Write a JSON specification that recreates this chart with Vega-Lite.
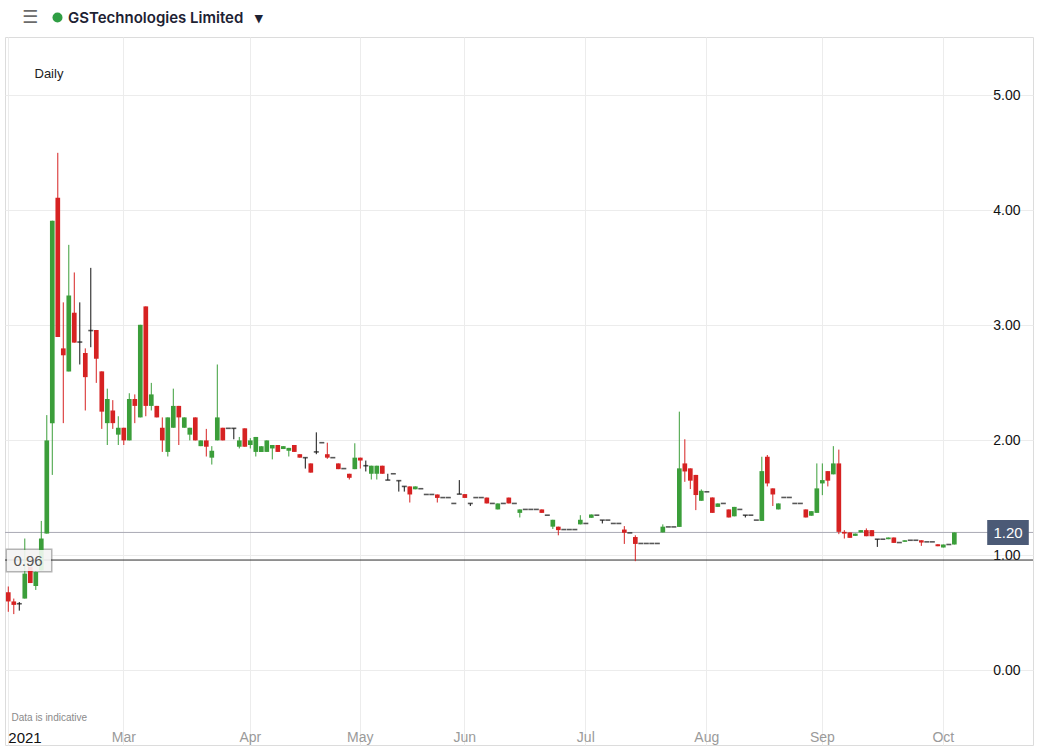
{
"$schema": "https://vega.github.io/schema/vega-lite/v6.json",
"width": 1028, "height": 708,
"autosize": "none",
"padding": {"left": 5, "top": 37, "right": 4, "bottom": 10},
"background": "white",
"config": {"view": {"stroke": "#dcdcdc"}, "font": "Liberation Sans"},
"datasets": {
"px": [
{"d":"2021-01-29","o":0.68,"h":0.73,"l":0.51,"c":0.60},
{"d":"2021-02-01","o":0.60,"h":0.625,"l":0.49,"c":0.57},
{"d":"2021-02-02","o":0.58,"h":0.595,"l":0.52,"c":0.58},
{"d":"2021-02-03","o":0.625,"h":1.147,"l":0.625,"c":0.842},
{"d":"2021-02-04","o":0.90,"h":0.90,"l":0.76,"c":0.76},
{"d":"2021-02-05","o":0.734,"h":0.86,"l":0.70,"c":0.856},
{"d":"2021-02-08","o":0.87,"h":1.30,"l":0.87,"c":1.147},
{"d":"2021-02-09","o":1.19,"h":2.22,"l":1.19,"c":2.00},
{"d":"2021-02-10","o":2.15,"h":3.91,"l":1.70,"c":3.91},
{"d":"2021-02-11","o":4.11,"h":4.50,"l":2.90,"c":2.90},
{"d":"2021-02-12","o":2.80,"h":3.20,"l":2.15,"c":2.74},
{"d":"2021-02-15","o":2.60,"h":3.70,"l":2.60,"c":3.26},
{"d":"2021-02-16","o":3.11,"h":3.46,"l":2.85,"c":2.85},
{"d":"2021-02-17","o":2.855,"h":3.20,"l":2.66,"c":2.855},
{"d":"2021-02-18","o":2.76,"h":2.80,"l":2.26,"c":2.55},
{"d":"2021-02-19","o":2.955,"h":3.50,"l":2.81,"c":2.955},
{"d":"2021-02-22","o":2.96,"h":2.96,"l":2.50,"c":2.71},
{"d":"2021-02-23","o":2.60,"h":2.60,"l":2.10,"c":2.25},
{"d":"2021-02-24","o":2.15,"h":2.45,"l":1.96,"c":2.36},
{"d":"2021-02-25","o":2.26,"h":2.35,"l":2.10,"c":2.15},
{"d":"2021-02-26","o":2.05,"h":2.21,"l":1.96,"c":2.11},
{"d":"2021-03-01","o":2.11,"h":2.11,"l":1.96,"c":2.00},
{"d":"2021-03-02","o":2.00,"h":2.41,"l":2.00,"c":2.36},
{"d":"2021-03-03","o":2.36,"h":2.40,"l":2.15,"c":2.30},
{"d":"2021-03-04","o":2.20,"h":3.005,"l":2.20,"c":3.005},
{"d":"2021-03-05","o":3.165,"h":3.165,"l":2.21,"c":2.30},
{"d":"2021-03-08","o":2.30,"h":2.50,"l":2.26,"c":2.40},
{"d":"2021-03-09","o":2.30,"h":2.30,"l":2.20,"c":2.20},
{"d":"2021-03-10","o":2.11,"h":2.20,"l":1.90,"c":2.00},
{"d":"2021-03-11","o":1.90,"h":2.20,"l":1.86,"c":2.20},
{"d":"2021-03-12","o":2.11,"h":2.45,"l":2.11,"c":2.30},
{"d":"2021-03-15","o":2.30,"h":2.30,"l":1.96,"c":2.20},
{"d":"2021-03-16","o":2.11,"h":2.20,"l":2.11,"c":2.20},
{"d":"2021-03-17","o":2.05,"h":2.11,"l":2.00,"c":2.11},
{"d":"2021-03-18","o":2.20,"h":2.20,"l":2.00,"c":2.00},
{"d":"2021-03-19","o":1.95,"h":2.00,"l":1.95,"c":2.00},
{"d":"2021-03-22","o":2.00,"h":2.10,"l":1.86,"c":1.945},
{"d":"2021-03-23","o":1.85,"h":1.95,"l":1.79,"c":1.91},
{"d":"2021-03-24","o":2.00,"h":2.66,"l":2.00,"c":2.20},
{"d":"2021-03-25","o":2.11,"h":2.11,"l":2.00,"c":2.00},
{"d":"2021-03-26","o":2.105,"h":2.105,"l":2.105,"c":2.105},
{"d":"2021-03-29","o":2.105,"h":2.105,"l":2.01,"c":2.105},
{"d":"2021-03-30","o":1.945,"h":2.03,"l":1.93,"c":2.00},
{"d":"2021-03-31","o":2.105,"h":2.105,"l":1.945,"c":1.945},
{"d":"2021-04-01","o":1.96,"h":2.02,"l":1.93,"c":2.00},
{"d":"2021-04-06","o":1.90,"h":2.03,"l":1.86,"c":2.03},
{"d":"2021-04-07","o":1.90,"h":1.95,"l":1.90,"c":1.95},
{"d":"2021-04-08","o":1.90,"h":2.00,"l":1.90,"c":2.00},
{"d":"2021-04-09","o":1.93,"h":1.96,"l":1.835,"c":1.96},
{"d":"2021-04-12","o":1.96,"h":1.96,"l":1.90,"c":1.90},
{"d":"2021-04-13","o":1.925,"h":1.95,"l":1.925,"c":1.95},
{"d":"2021-04-14","o":1.91,"h":1.935,"l":1.86,"c":1.935},
{"d":"2021-04-15","o":1.96,"h":1.96,"l":1.90,"c":1.90},
{"d":"2021-04-16","o":1.88,"h":1.88,"l":1.85,"c":1.85},
{"d":"2021-04-19","o":1.85,"h":1.85,"l":1.755,"c":1.85},
{"d":"2021-04-20","o":1.80,"h":1.80,"l":1.72,"c":1.72},
{"d":"2021-04-21","o":1.90,"h":2.07,"l":1.88,"c":1.90},
{"d":"2021-04-22","o":1.98,"h":1.98,"l":1.98,"c":1.98},
{"d":"2021-04-23","o":1.88,"h":1.98,"l":1.84,"c":1.85},
{"d":"2021-04-26","o":1.85,"h":1.85,"l":1.85,"c":1.85},
{"d":"2021-04-27","o":1.80,"h":1.80,"l":1.75,"c":1.75},
{"d":"2021-04-28","o":1.755,"h":1.755,"l":1.755,"c":1.755},
{"d":"2021-04-29","o":1.71,"h":1.71,"l":1.66,"c":1.675},
{"d":"2021-04-30","o":1.75,"h":1.975,"l":1.75,"c":1.85},
{"d":"2021-05-04","o":1.85,"h":1.85,"l":1.755,"c":1.825},
{"d":"2021-05-05","o":1.78,"h":1.825,"l":1.73,"c":1.78},
{"d":"2021-05-06","o":1.71,"h":1.78,"l":1.66,"c":1.78},
{"d":"2021-05-07","o":1.71,"h":1.78,"l":1.66,"c":1.78},
{"d":"2021-05-10","o":1.78,"h":1.78,"l":1.71,"c":1.71},
{"d":"2021-05-11","o":1.655,"h":1.71,"l":1.655,"c":1.655},
{"d":"2021-05-12","o":1.71,"h":1.71,"l":1.71,"c":1.71},
{"d":"2021-05-13","o":1.65,"h":1.65,"l":1.555,"c":1.65},
{"d":"2021-05-14","o":1.60,"h":1.60,"l":1.555,"c":1.60},
{"d":"2021-05-17","o":1.60,"h":1.60,"l":1.46,"c":1.53},
{"d":"2021-05-18","o":1.575,"h":1.60,"l":1.575,"c":1.60},
{"d":"2021-05-19","o":1.58,"h":1.58,"l":1.58,"c":1.58},
{"d":"2021-05-20","o":1.53,"h":1.53,"l":1.53,"c":1.53},
{"d":"2021-05-21","o":1.53,"h":1.53,"l":1.53,"c":1.53},
{"d":"2021-05-24","o":1.53,"h":1.53,"l":1.46,"c":1.50},
{"d":"2021-05-25","o":1.503,"h":1.503,"l":1.503,"c":1.503},
{"d":"2021-05-26","o":1.503,"h":1.503,"l":1.503,"c":1.503},
{"d":"2021-05-27","o":1.452,"h":1.452,"l":1.452,"c":1.452},
{"d":"2021-05-28","o":1.533,"h":1.655,"l":1.533,"c":1.533},
{"d":"2021-06-01","o":1.533,"h":1.533,"l":1.50,"c":1.50},
{"d":"2021-06-02","o":1.452,"h":1.452,"l":1.43,"c":1.452},
{"d":"2021-06-03","o":1.503,"h":1.503,"l":1.503,"c":1.503},
{"d":"2021-06-04","o":1.503,"h":1.503,"l":1.503,"c":1.503},
{"d":"2021-06-07","o":1.503,"h":1.503,"l":1.452,"c":1.452},
{"d":"2021-06-08","o":1.452,"h":1.452,"l":1.452,"c":1.452},
{"d":"2021-06-09","o":1.40,"h":1.452,"l":1.40,"c":1.452},
{"d":"2021-06-10","o":1.452,"h":1.452,"l":1.452,"c":1.452},
{"d":"2021-06-11","o":1.503,"h":1.503,"l":1.452,"c":1.452},
{"d":"2021-06-14","o":1.452,"h":1.452,"l":1.452,"c":1.452},
{"d":"2021-06-15","o":1.37,"h":1.40,"l":1.33,"c":1.40},
{"d":"2021-06-16","o":1.40,"h":1.40,"l":1.40,"c":1.40},
{"d":"2021-06-17","o":1.40,"h":1.40,"l":1.40,"c":1.40},
{"d":"2021-06-18","o":1.40,"h":1.40,"l":1.40,"c":1.40},
{"d":"2021-06-21","o":1.40,"h":1.40,"l":1.37,"c":1.37},
{"d":"2021-06-22","o":1.35,"h":1.35,"l":1.35,"c":1.35},
{"d":"2021-06-23","o":1.25,"h":1.31,"l":1.23,"c":1.31},
{"d":"2021-06-24","o":1.25,"h":1.25,"l":1.175,"c":1.22},
{"d":"2021-06-25","o":1.225,"h":1.225,"l":1.225,"c":1.225},
{"d":"2021-06-28","o":1.225,"h":1.225,"l":1.225,"c":1.225},
{"d":"2021-06-29","o":1.225,"h":1.225,"l":1.225,"c":1.225},
{"d":"2021-06-30","o":1.27,"h":1.35,"l":1.27,"c":1.31},
{"d":"2021-07-01","o":1.278,"h":1.278,"l":1.278,"c":1.278},
{"d":"2021-07-02","o":1.327,"h":1.356,"l":1.327,"c":1.356},
{"d":"2021-07-05","o":1.35,"h":1.35,"l":1.35,"c":1.35},
{"d":"2021-07-06","o":1.307,"h":1.307,"l":1.278,"c":1.307},
{"d":"2021-07-07","o":1.307,"h":1.307,"l":1.307,"c":1.307},
{"d":"2021-07-08","o":1.278,"h":1.278,"l":1.278,"c":1.278},
{"d":"2021-07-09","o":1.278,"h":1.278,"l":1.278,"c":1.278},
{"d":"2021-07-12","o":1.225,"h":1.255,"l":1.10,"c":1.197},
{"d":"2021-07-13","o":1.196,"h":1.196,"l":1.196,"c":1.196},
{"d":"2021-07-14","o":1.16,"h":1.175,"l":0.95,"c":1.10},
{"d":"2021-07-15","o":1.104,"h":1.104,"l":1.104,"c":1.104},
{"d":"2021-07-16","o":1.104,"h":1.104,"l":1.104,"c":1.104},
{"d":"2021-07-19","o":1.104,"h":1.104,"l":1.104,"c":1.104},
{"d":"2021-07-20","o":1.104,"h":1.104,"l":1.104,"c":1.104},
{"d":"2021-07-21","o":1.20,"h":1.27,"l":1.20,"c":1.25},
{"d":"2021-07-22","o":1.248,"h":1.248,"l":1.248,"c":1.248},
{"d":"2021-07-23","o":1.248,"h":1.248,"l":1.248,"c":1.248},
{"d":"2021-07-26","o":1.248,"h":2.25,"l":1.248,"c":1.757},
{"d":"2021-07-27","o":1.80,"h":2.01,"l":1.64,"c":1.73},
{"d":"2021-07-28","o":1.757,"h":1.757,"l":1.577,"c":1.65},
{"d":"2021-07-29","o":1.70,"h":1.70,"l":1.394,"c":1.525},
{"d":"2021-07-30","o":1.475,"h":1.574,"l":1.475,"c":1.562},
{"d":"2021-08-02","o":1.553,"h":1.553,"l":1.553,"c":1.553},
{"d":"2021-08-03","o":1.504,"h":1.504,"l":1.37,"c":1.37},
{"d":"2021-08-04","o":1.422,"h":1.452,"l":1.422,"c":1.452},
{"d":"2021-08-05","o":1.452,"h":1.452,"l":1.452,"c":1.452},
{"d":"2021-08-06","o":1.40,"h":1.40,"l":1.33,"c":1.33},
{"d":"2021-08-09","o":1.34,"h":1.422,"l":1.34,"c":1.422},
{"d":"2021-08-10","o":1.40,"h":1.40,"l":1.40,"c":1.40},
{"d":"2021-08-11","o":1.35,"h":1.35,"l":1.33,"c":1.35},
{"d":"2021-08-12","o":1.35,"h":1.35,"l":1.35,"c":1.35},
{"d":"2021-08-13","o":1.307,"h":1.307,"l":1.307,"c":1.307},
{"d":"2021-08-16","o":1.30,"h":1.858,"l":1.30,"c":1.733},
{"d":"2021-08-17","o":1.858,"h":1.873,"l":1.60,"c":1.626},
{"d":"2021-08-18","o":1.583,"h":1.583,"l":1.43,"c":1.53},
{"d":"2021-08-19","o":1.40,"h":1.452,"l":1.40,"c":1.452},
{"d":"2021-08-20","o":1.504,"h":1.504,"l":1.504,"c":1.504},
{"d":"2021-08-23","o":1.504,"h":1.504,"l":1.504,"c":1.504},
{"d":"2021-08-24","o":1.452,"h":1.452,"l":1.452,"c":1.452},
{"d":"2021-08-25","o":1.452,"h":1.452,"l":1.452,"c":1.452},
{"d":"2021-08-26","o":1.40,"h":1.40,"l":1.33,"c":1.33},
{"d":"2021-08-27","o":1.345,"h":1.385,"l":1.345,"c":1.385},
{"d":"2021-08-31","o":1.37,"h":1.80,"l":1.37,"c":1.583},
{"d":"2021-09-01","o":1.626,"h":1.80,"l":1.524,"c":1.655},
{"d":"2021-09-02","o":1.733,"h":1.733,"l":1.60,"c":1.65},
{"d":"2021-09-03","o":1.705,"h":1.95,"l":1.705,"c":1.80},
{"d":"2021-09-06","o":1.80,"h":1.92,"l":1.185,"c":1.205},
{"d":"2021-09-07","o":1.205,"h":1.22,"l":1.147,"c":1.19},
{"d":"2021-09-08","o":1.20,"h":1.20,"l":1.153,"c":1.153},
{"d":"2021-09-09","o":1.17,"h":1.19,"l":1.17,"c":1.19},
{"d":"2021-09-10","o":1.20,"h":1.22,"l":1.20,"c":1.22},
{"d":"2021-09-13","o":1.22,"h":1.235,"l":1.167,"c":1.167},
{"d":"2021-09-14","o":1.22,"h":1.22,"l":1.167,"c":1.167},
{"d":"2021-09-15","o":1.141,"h":1.141,"l":1.074,"c":1.141},
{"d":"2021-09-16","o":1.141,"h":1.141,"l":1.141,"c":1.141},
{"d":"2021-09-17","o":1.141,"h":1.156,"l":1.141,"c":1.156},
{"d":"2021-09-20","o":1.156,"h":1.156,"l":1.109,"c":1.109},
{"d":"2021-09-21","o":1.112,"h":1.112,"l":1.112,"c":1.112},
{"d":"2021-09-22","o":1.118,"h":1.132,"l":1.118,"c":1.132},
{"d":"2021-09-23","o":1.132,"h":1.132,"l":1.132,"c":1.132},
{"d":"2021-09-24","o":1.132,"h":1.132,"l":1.132,"c":1.132},
{"d":"2021-09-27","o":1.132,"h":1.132,"l":1.083,"c":1.112},
{"d":"2021-09-28","o":1.118,"h":1.118,"l":1.118,"c":1.118},
{"d":"2021-09-29","o":1.118,"h":1.118,"l":1.118,"c":1.118},
{"d":"2021-09-30","o":1.097,"h":1.097,"l":1.08,"c":1.08},
{"d":"2021-10-01","o":1.069,"h":1.095,"l":1.069,"c":1.095},
{"d":"2021-10-04","o":1.095,"h":1.095,"l":1.095,"c":1.095},
{"d":"2021-10-05","o":1.095,"h":1.20,"l":1.095,"c":1.20}
],
"lv": [{"v": 1.20, "k": "last"}, {"v": 0.96, "k": "ref"}]
},
"resolve": {"scale": {"y": "independent"}},
"layer": [
{
"data": {"name": "lv"},
"mark": {"type": "rule", "strokeWidth": 1},
"encoding": {
"y": {"field": "v", "type": "quantitative", "scale": {"domain": [-0.648, 5.507], "nice": false, "zero": false},
"axis": {"orient": "left", "values": [0.96], "format": ".2f", "zindex": 1, "domain": false, "grid": false, "ticks": true, "tickSize": -44, "tickWidth": 21, "tickColor": "white", "tickOpacity": 0.85, "offset": -1.5, "labelAlign": "center", "labelPadding": 23, "labelColor": "#555555", "labelFontSize": 15, "labelBaseline": "middle",
"title": "Daily", "titleAngle": 0, "titleX": 27.5, "titleY": 36, "titleAlign": "left", "titleBaseline": "middle", "titleFontSize": 13, "titleFontWeight": "normal", "titleColor": "#222222", "titleFont": "Liberation Sans"}},
"color": {"condition": {"test": "datum.k == 'last'", "value": "#a9a9b4"}, "value": "#2b2b2b"}
}
},
{
"data": {"name": "px"},
"mark": {"type": "rule", "strokeWidth": 1},
"encoding": {
"x": {"field": "d", "type": "ordinal", "scale": {"type": "band", "domain": {"unionWith": ["2021-10-06","2021-10-07","2021-10-08","2021-10-11","2021-10-12","2021-10-13","2021-10-14","2021-10-15","2021-10-18","2021-10-19","2021-10-20","2021-10-21","2021-10-22"]}, "paddingInner": 0.15, "paddingOuter": 0.525, "align": 0.165},
"axis": {"orient": "bottom", "values": ["2021-01-29","2021-03-01","2021-04-01","2021-05-04","2021-06-01","2021-07-01","2021-08-02","2021-09-01","2021-10-01"],
"labelExpr": "datum.value == '2021-01-29' ? '2021' : utcFormat(toDate(datum.value), '%b')",
"ticks": false, "domain": false, "grid": true, "gridColor": "#ececec", "labelPadding": -8, "labelBaseline": "middle", "labelAngle": 0, "labelOverlap": false,
"labelFontSize": {"condition": {"test": "datum.value == '2021-01-29'", "value": 15}, "value": 14},
"labelColor": {"condition": {"test": "datum.value == '2021-01-29'", "value": "#111111"}, "value": "#9a9a9a"},
"labelAlign": {"condition": {"test": "datum.value == '2021-01-29'", "value": "left"}, "value": "center"},
"title": "Data is indicative", "titleX": 6, "titleY": -28, "titleAlign": "left", "titleBaseline": "middle", "titleFontSize": 10, "titleFontWeight": "normal", "titleColor": "#8a8a8a", "zindex": 0}},
"y": {"field": "l", "type": "quantitative", "scale": {"domain": [-0.648, 5.507], "nice": false, "zero": false},
"axis": {"orient": "right", "values": [0,1,2,3,4,5], "format": ".2f", "ticks": false, "domain": false, "grid": true, "gridColor": "#ececec", "labelAlign": "right", "labelPadding": -13, "labelBaseline": "middle", "labelFontSize": 14, "labelColor": "#111111", "title": null, "zindex": 0}},
"y2": {"field": "h"},
"color": {"condition": [{"test": "datum.c > datum.o", "value": "#3b9e3a"}, {"test": "datum.c < datum.o", "value": "#d62222"}], "value": "#111111"}
}
},
{
"data": {"name": "px"},
"transform": [{"filter": "datum.o != datum.c"}],
"mark": {"type": "bar"},
"encoding": {
"x": {"field": "d", "type": "ordinal"},
"y": {"field": "o", "type": "quantitative", "scale": {"domain": [-0.648, 5.507], "nice": false, "zero": false},
"axis": {"orient": "right", "values": [1.2], "format": ".2f", "zindex": 1, "domain": false, "grid": false, "ticks": true, "offset": -4.7, "tickSize": -41.6, "tickWidth": 25, "tickColor": "#4b5a76", "labelAlign": "center", "labelPadding": 20.8, "labelColor": "white", "labelFontSize": 15, "labelBaseline": "middle", "title": null}},
"y2": {"field": "c"},
"color": {"condition": [{"test": "datum.c > datum.o", "value": "#3b9e3a"}, {"test": "datum.c < datum.o", "value": "#d62222"}], "value": "#111111"}
}
},
{
"data": {"name": "px"},
"transform": [{"filter": "datum.o == datum.c"}],
"mark": {"type": "tick", "color": "#111111", "size": 5, "thickness": 1.6},
"encoding": {
"x": {"field": "d", "type": "ordinal"},
"y": {"field": "c", "type": "quantitative", "scale": {"domain": [-0.648, 5.507], "nice": false, "zero": false},
"axis": {"orient": "left", "values": [0.96], "labels": false, "domain": false, "grid": false, "ticks": true, "zindex": 0, "tickSize": -47, "tickWidth": 24, "tickColor": "#b3b3b3", "title": null}}
}
},
{
"data": {"name": "px"},
"transform": [{"filter": "datum.d == '2021-10-05'"}],
"mark": {"type": "point", "filled": true, "opacity": 0},
"encoding": {
"x": {"field": "d", "type": "ordinal"},
"y": {"field": "c", "type": "quantitative", "scale": {"domain": [-0.648, 5.507], "nice": false, "zero": false}, "axis": null},
"fill": {"datum": "GSTechnologies Limited", "scale": {"range": ["#2f9e44"]},
"legend": {"orient": "none", "legendX": 17, "legendY": -27, "title": "☰", "titleOrient": "left", "titlePadding": 11, "titleFont": "DejaVu Sans", "titleFontSize": 18, "titleFontWeight": "normal", "titleColor": "#6b6b6b", "titleBaseline": "middle", "symbolType": "circle", "symbolSize": 100, "symbolOpacity": 1, "symbolStrokeWidth": 0, "labelFont": "Inter", "labelFontSize": 15, "labelFontWeight": 600, "labelColor": "#1d2233", "labelOffset": 3, "padding": 0, "labelLimit": 400, "labelExpr": "datum.label + '\u00a0\u00a0\u00a0▾'"}}
}
}
]
}
